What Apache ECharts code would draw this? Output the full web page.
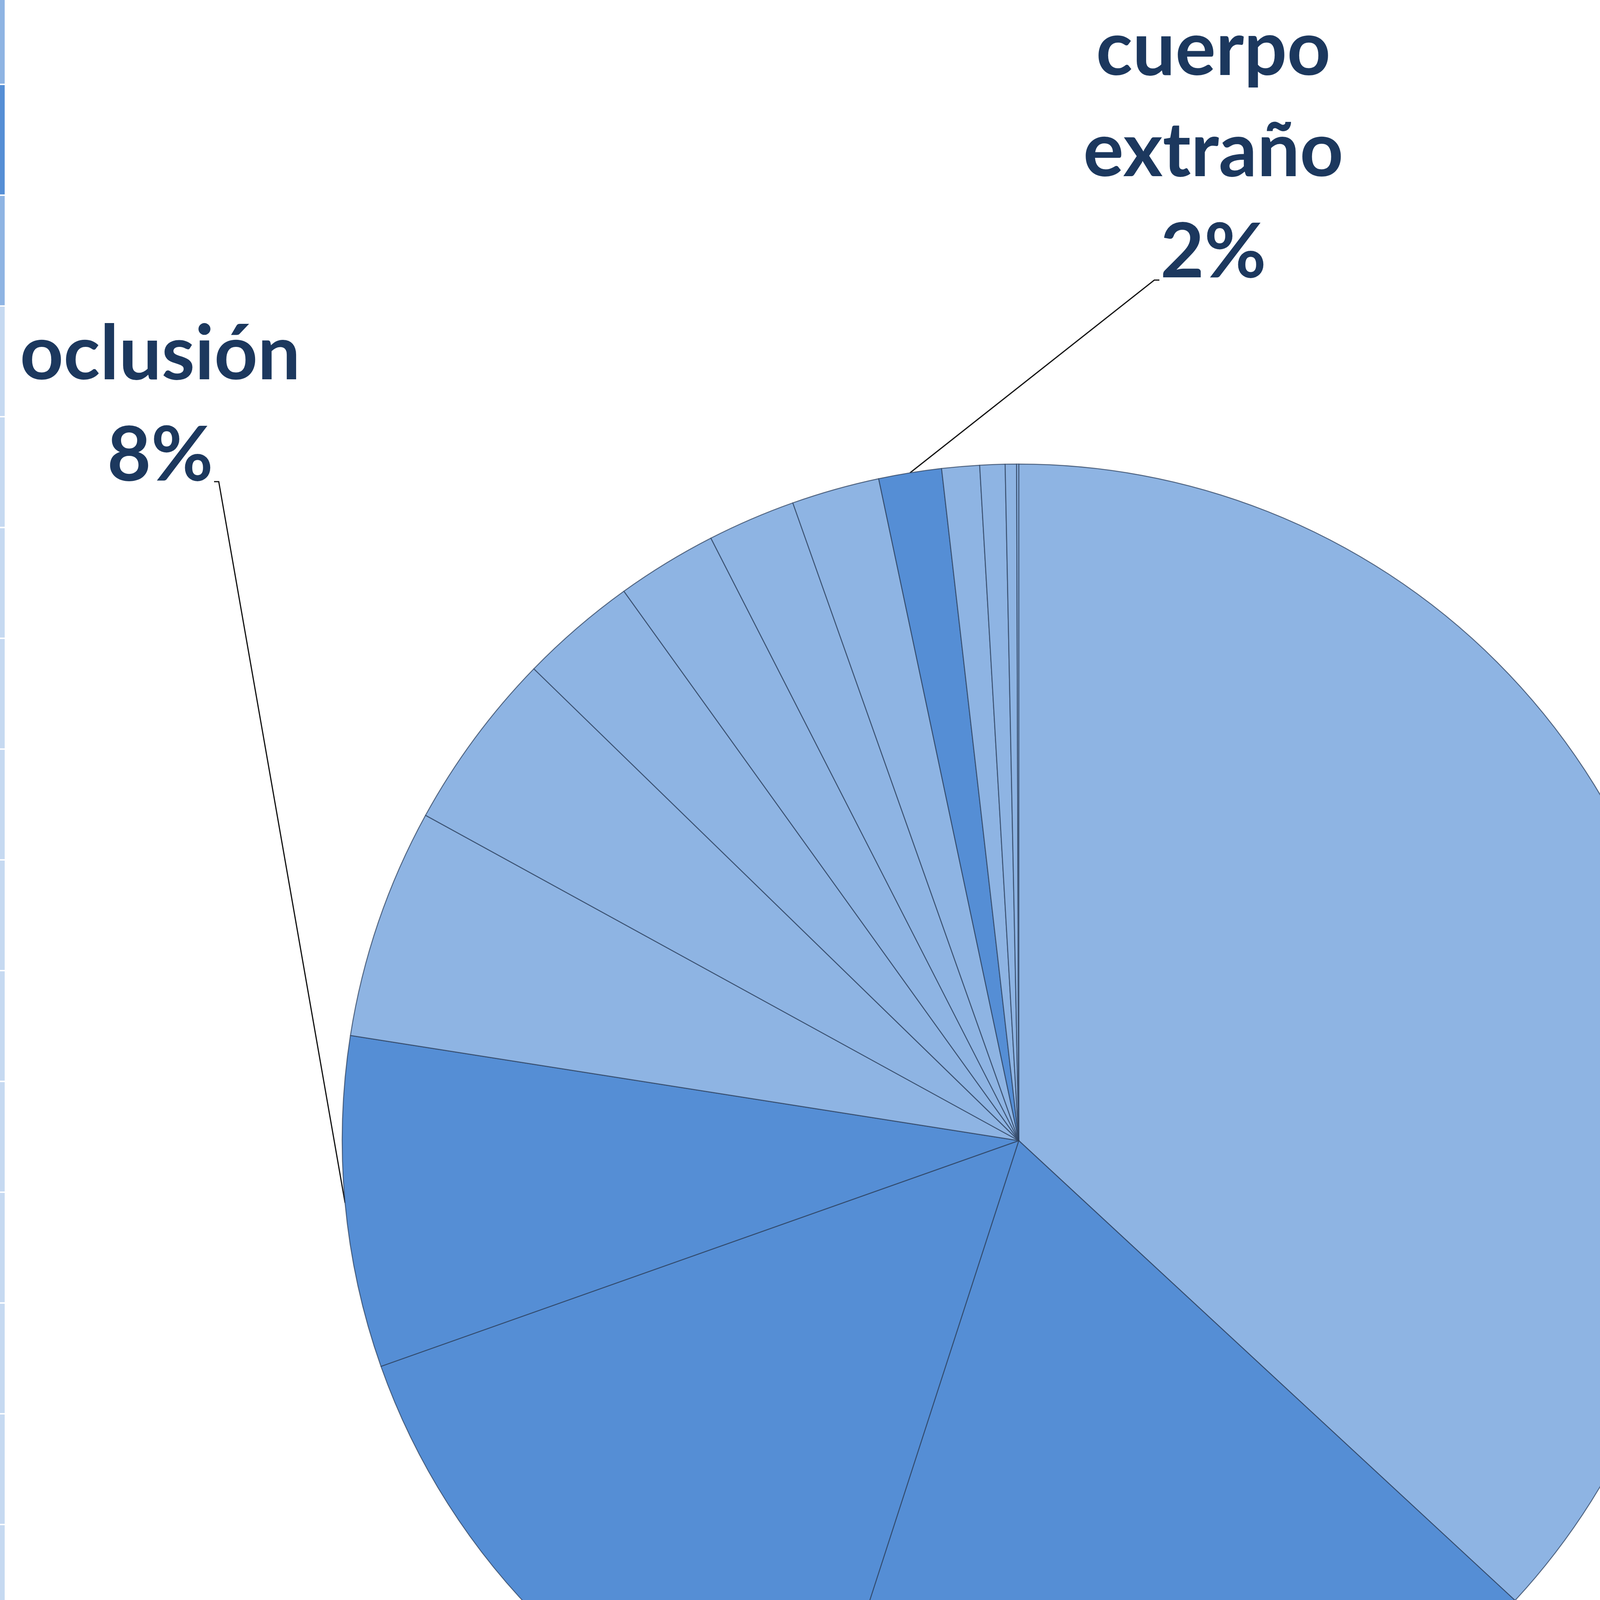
<!DOCTYPE html>
<html>
<head>
<meta charset="utf-8">
<script src="https://cdn.jsdelivr.net/npm/echarts@6/dist/echarts.min.js"></script>
<style>
html,body{margin:0;padding:0;background:#fff;}
#chart{width:4540px;height:5208px;}
</style>
</head>
<body>
<div id="chart"></div>
<script>
// ---- data ----
const categories = [
  'otras causas 1', 'cólico', 'estreñimiento', 'oclusión',
  'otras causas 2', 'otras causas 3', 'otras causas 4', 'otras causas 5',
  'otras causas 6', 'otras causas 7', 'cuerpo extraño', 'otras causas 8',
  'otras causas 9', 'otras causas 10', 'otras causas 11'
];
const values = [36.9, 18.1, 14.6, 7.9, 5.5, 4.3, 2.8, 2.4, 2.1, 2.1, 1.5, 0.9, 0.6, 0.27, 0.05];
const indicated = [false, true, true, true, false, false, false, false, false, false, true, false, false, false, false];
const labelNames = {
  'cólico': 'cólico',
  'estreñimiento': 'estreñimi\nento',
  'oclusión': 'oclusión',
  'cuerpo extraño': 'cuerpo\nextraño'
};
const titleText = 'INDICADAS 40%';
const stripCells = [1,1,1,1,1,1,1,1,1,1,1,1,1,1,1,1,1,1,1];

// ---- styles / layout ----
const lightBlue = '#8EB4E3';
const darkBlue = '#558ED5';
const labelColor = '#1C385E';
const stripColors = ['#8EB4E3', '#558ED5', '#8EB4E3'];
const stripPale = '#C6D9F1';
const labelPlacement = {
  'cuerpo extraño': { x: 3106, y: 388, elbow: [2955, 717], end: [2968, 717] },
  'oclusión':       { x: 410,  y: 1038, elbow: [560, 1233], end: [548, 1233] },
  'estreñimiento':  { x: 790,  y: 4540, elbow: [1226, 4338], end: [1212, 4338] },
  'cólico':         { x: 4280, y: 4793, elbow: [4002, 4714], end: [4014, 4714] }
};

const chart = echarts.init(document.getElementById('chart'), null, { renderer: 'canvas' });

const pieData = categories.map((name, i) => ({
  name: name,
  value: values[i],
  itemStyle: { color: indicated[i] ? darkBlue : lightBlue },
  label: { show: indicated[i] },
  labelLine: { show: indicated[i] }
}));

const option = {
  animation: false,
  backgroundColor: '#ffffff',
  title: {
    text: titleText,
    left: 2472,
    top: 4953,
    textAlign: 'center',
    textStyle: {
      fontFamily: 'Lato',
      fontWeight: 'bold',
      fontSize: 280,
      lineHeight: 280,
      color: '#000000'
    }
  },
  grid: { left: 0, width: 12, top: -67.6, height: 5388.4, outerBoundsMode: 'none', containLabel: false },
  xAxis: { type: 'value', min: 0, max: 1, show: false },
  yAxis: { type: 'category', inverse: true, show: false, data: stripCells.map((_, i) => String(i)) },
  series: [
    {
      type: 'bar',
      data: stripCells,
      barWidth: 280,
      silent: true,
      itemStyle: {
        color: function (p) { return stripColors[p.dataIndex] || stripPale; }
      }
    },
    {
      type: 'pie',
      center: [2608, 2920],
      radius: 1732,
      startAngle: 90,
      clockwise: true,
      percentPrecision: 0,
      avoidLabelOverlap: false,
      silent: true,
      data: pieData,
      itemStyle: {
        borderColor: 'rgba(45,65,95,0.75)',
        borderWidth: 2.5
      },
      label: {
        position: 'outside',
        formatter: function (p) { return labelNames[p.name] + '\n' + p.percent + '%'; },
        fontFamily: 'Lato',
        fontWeight: 'bold',
        fontSize: 194,
        lineHeight: 259,
        color: labelColor,
        align: 'center'
      },
      labelLine: {
        length: 20,
        length2: 20,
        smooth: false,
        lineStyle: { color: '#111111', width: 3 }
      },
      labelLayout: function (p) {
        const name = categories[p.dataIndex];
        const pl = labelPlacement[name];
        if (!pl || !p.labelLinePoints) return {};
        const start = p.labelLinePoints[0];
        return {
          x: pl.x,
          y: pl.y,
          align: 'center',
          verticalAlign: 'middle',
          labelLinePoints: [start, pl.elbow, pl.end]
        };
      }
    }
  ]
};
chart.setOption(option);
</script>
</body>
</html>
